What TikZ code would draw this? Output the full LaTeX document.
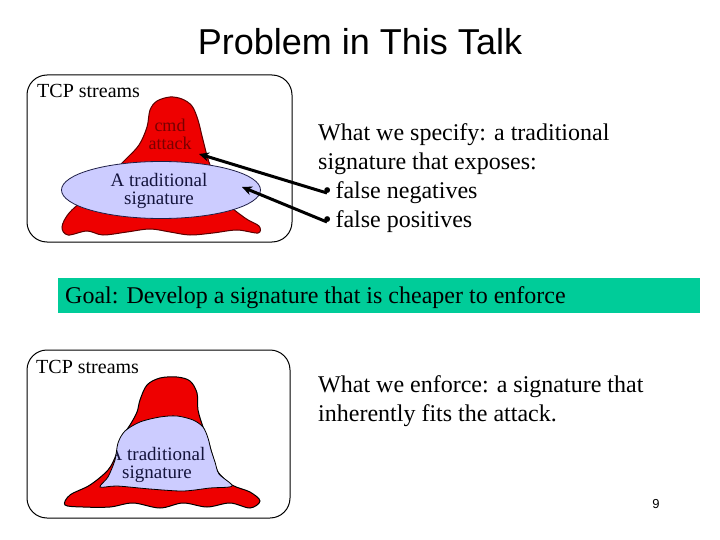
\documentclass[tikz,border=0pt]{standalone}
\usepackage{fontspec}
\setmainfont{Liberation Serif}
\newfontfamily\arialfont{Liberation Sans}
\usetikzlibrary{shapes.geometric,arrows.meta}
\definecolor{blobred}{RGB}{238,0,0}
\definecolor{blobedge}{RGB}{90,0,0}
\definecolor{lav}{RGB}{204,204,255}
\definecolor{lavedge}{RGB}{30,30,70}
\definecolor{cmdcol}{RGB}{120,0,0}
\definecolor{sigtext}{RGB}{20,20,60}
\definecolor{goalgreen}{RGB}{0,204,153}
\tikzset{
  panel/.style={draw=black, line width=1pt, rounded corners=20pt},
  bodytext/.style={font=\fontsize{24}{29}\selectfont, anchor=base west, inner sep=0pt},
  tcplabel/.style={font=\fontsize{20}{20}\selectfont, anchor=base west, inner sep=0pt},
  siglabel/.style={font=\fontsize{19}{17.5}\selectfont, text=sigtext, align=center, inner sep=0pt},
  cmdlabel/.style={font=\fontsize{18}{18}\selectfont, text=cmdcol, align=center, inner sep=0pt},
  blobfill/.style={fill=blobred, draw=blobedge, line width=1pt},
  pointer/.style={line width=3pt, -{Stealth[length=10pt,width=9pt]}},
}
\begin{document}
\begin{tikzpicture}[x=1pt,y=-1pt]
\useasboundingbox (0,0) rectangle (720,540);
\fill[white] (0,0) rectangle (720,540);

% title
\node[font=\arialfont\fontsize{36}{36}\selectfont, anchor=base, inner sep=0pt] (title) at (360,55) {Problem in This Talk};

% ---------- top panel ----------
\draw[panel] (27,75) rectangle (292,242);
\node[tcplabel] (tcp1) at (37,98) {TCP streams};

\draw[blobfill] plot[smooth cycle, tension=0.55] coordinates {
 (68,235) (87,231) (103,235) (127,232) (150,229) (170,232) (190,235) (213,233)
 (237,230) (258,233) (259,226) (245,218) (225,200) (210,165) (203,140) (198,120)
 (192,106) (182,99) (170,97) (157,101) (150,110) (147,127) (139,145) (125,160)
 (95,190) (70,212) (62,227)};

\node[cmdlabel] (cmd) at (170,134) {cmd\\attack};

\node[ellipse, fill=lav, draw=lavedge, line width=0.8pt, minimum width=199pt, minimum height=57pt, inner sep=0pt] (sig1) at (161,190) {};
\node[siglabel] (sig1t) at (159,191) {A traditional\\signature};

\node[bodytext] (spec1) at (318,141) {What we specify: a traditional};
\node[bodytext] (spec2) at (318,170) {signature that exposes:};
\node[bodytext] (fneg) at (323,199) {\textbullet\,false negatives};
\node[bodytext] (fpos) at (323,228) {\textbullet\,false positives};

\coordinate (bulA) at (327,193);
\coordinate (bulB) at (327,222);
\coordinate (tipA) at (199,154);
\coordinate (tipB) at (242,187);
\draw[pointer] (bulA) -- (tipA);
\draw[pointer] (bulB) -- (tipB);

% ---------- goal bar ----------
\node[fill=goalgreen, minimum width=642pt, minimum height=35pt, inner sep=0pt, anchor=north west] (goalbar) at (58,278) {};
\node[bodytext] (goal) at (65,303) {Goal: Develop a signature that is cheaper to enforce};

% ---------- bottom panel ----------
\draw[panel] (27,350) rectangle (290,518);
\node[tcplabel] (tcp2) at (36,373) {TCP streams};

\draw[fill=blobred, draw=black, line width=1pt] plot[smooth cycle, tension=0.55] coordinates {
 (160,378) (177,377) (190,381) (197,393) (198,410) (203,427) (208,440) (213,457)
 (218,472) (232,485) (250,492) (260,501) (250,508) (230,503) (207,507) (183,503)
 (160,508) (133,503) (110,507) (83,507) (65,505) (70,495) (90,485) (108,470)
 (116,455) (120,440) (130,425) (137,412) (140,400) (147,385)};

\def\lavpath{plot[smooth cycle, tension=0.5] coordinates {
 (100,487) (108,477) (115,460) (118,443) (125,431) (140,422) (160,417) (177,416)
 (193,420) (203,427) (208,438) (211,450) (215,462) (219,474) (232,486)
 (210,488) (183,491) (150,489) (117,486)}}
\fill[lav] \lavpath;
\begin{scope}
\clip \lavpath;
\node[siglabel] (sig2t) at (157,465) {A traditional\\signature};
\end{scope}
\draw[black, line width=0.8pt] \lavpath;

\node[bodytext] (enf1) at (318,392) {What we enforce: a signature that};
\node[bodytext] (enf2) at (318,421) {inherently fits the attack.};

\node[font=\arialfont\fontsize{13}{13}\selectfont, anchor=base, inner sep=0pt] (pagenum) at (656,508) {9};
\end{tikzpicture}
\end{document}
